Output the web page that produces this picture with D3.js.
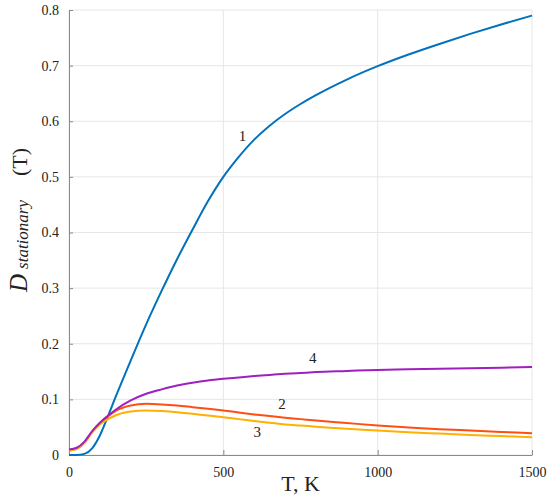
<!DOCTYPE html>
<html>
<head>
<meta charset="utf-8">
<script src="https://cdn.jsdelivr.net/npm/d3@7"></script>
<style>
  body { margin: 0; background: #fff; }
  svg text { fill: #222; }
</style>
</head>
<body>
<svg id="chart" width="550" height="497"></svg>
<script>
// data
let temps = [0, 25, 50, 75, 100, 125, 150, 200, 250, 300, 350, 400, 450, 500, 550, 600, 650, 700, 750, 800, 900, 1000, 1100, 1200, 1300, 1400, 1500]
let curve1 = [0, 0, 0.002, 0.012, 0.035, 0.068, 0.103, 0.17, 0.235, 0.295, 0.352, 0.405, 0.456, 0.50, 0.536, 0.567, 0.592, 0.613, 0.631, 0.647, 0.675, 0.699, 0.72, 0.739, 0.757, 0.774, 0.79]
let curve2 = [0.008, 0.011, 0.022, 0.041, 0.057, 0.069, 0.079, 0.089, 0.092, 0.091, 0.089, 0.086, 0.083, 0.080, 0.0765, 0.073, 0.070, 0.067, 0.0645, 0.062, 0.0575, 0.053, 0.0495, 0.0465, 0.044, 0.0415, 0.039]
let curve3 = [0.008, 0.011, 0.022, 0.041, 0.055, 0.064, 0.071, 0.078, 0.080, 0.079, 0.077, 0.074, 0.071, 0.068, 0.0645, 0.061, 0.058, 0.055, 0.053, 0.051, 0.047, 0.044, 0.041, 0.0385, 0.036, 0.034, 0.032]
let curve4 = [0.010, 0.013, 0.024, 0.043, 0.058, 0.070, 0.081, 0.098, 0.110, 0.118, 0.125, 0.130, 0.134, 0.137, 0.1395, 0.142, 0.144, 0.146, 0.1475, 0.149, 0.151, 0.153, 0.154, 0.155, 0.156, 0.157, 0.158]
let seriesNames = ["1", "2", "3", "4"]
let xTicks = [0, 500, 1000, 1500]
let yTicks = [0, 0.1, 0.2, 0.3, 0.4, 0.5, 0.6, 0.7, 0.8]

let colors = ["#0072bd", "#ff4e12", "#ffb000", "#a01fbf"]
let labelPos = [[562, 0.565], [690, 0.082], [610, 0.032], [790, 0.166]]
let serif = "Liberation Serif, Times New Roman, DejaVu Serif, serif"

let svg = d3.select("#chart")
let margin = { left: 69, top: 10, right: 18, bottom: 42 }
let width = 550 - margin.left - margin.right
let height = 497 - margin.top - margin.bottom

let g = svg.append("g").attr("transform", `translate(${margin.left},${margin.top})`)

let xScale = d3.scaleLinear().domain([0, 1500]).range([0, width])
let yScale = d3.scaleLinear().domain([0, 0.8]).range([height, 0])

// gridlines
g.append("g").selectAll("line").data(xTicks).enter().append("line")
    .attr("x1", d => xScale(d)).attr("x2", d => xScale(d))
    .attr("y1", 0).attr("y2", height)
    .attr("stroke", "#e6e6e6").attr("stroke-width", 1)
g.append("g").selectAll("line").data(yTicks).enter().append("line")
    .attr("x1", 0).attr("x2", width)
    .attr("y1", d => yScale(d)).attr("y2", d => yScale(d))
    .attr("stroke", "#e6e6e6").attr("stroke-width", 1)

// axes, ticks pointing inward
let xAxis = d3.axisBottom(xScale).tickValues(xTicks).tickSizeInner(-5).tickSizeOuter(0).tickPadding(12)
    .tickFormat(d3.format("d"))
let yAxis = d3.axisLeft(yScale).tickValues(yTicks).tickSizeInner(-4).tickSizeOuter(0).tickPadding(10)
    .tickFormat(d => d === 0 ? "0" : d3.format(".1f")(d))

let xg = g.append("g").attr("transform", `translate(0,${height})`).call(xAxis)
let yg = g.append("g").call(yAxis)
for (let ax of [xg, yg]) {
    ax.attr("font-family", serif).attr("font-size", 14)
    ax.select(".domain").attr("stroke", "#8a8a8a")
    ax.selectAll(".tick line").attr("stroke", "#8a8a8a")
    ax.selectAll("text").attr("fill", "#222")
}

// curves
let allCurves = [curve1, curve2, curve3, curve4]
let line = d3.line()
    .x((d, i) => xScale(temps[i]))
    .y(d => yScale(d))
    .curve(d3.curveMonotoneX)

g.selectAll("path.curve")
    .data(allCurves)
    .enter()
    .append("path")
    .attr("class", "curve")
    .attr("d", d => line(d))
    .attr("fill", "none")
    .attr("stroke", (d, i) => colors[i])
    .attr("stroke-width", 2)

// curve labels
g.selectAll("text.lbl")
    .data(seriesNames)
    .enter()
    .append("text")
    .attr("class", "lbl")
    .attr("x", (d, i) => xScale(labelPos[i][0]))
    .attr("y", (d, i) => yScale(labelPos[i][1]))
    .attr("text-anchor", "middle")
    .attr("font-family", serif)
    .attr("font-size", 15)
    .text(d => d)

// x axis label
svg.append("text")
    .attr("x", margin.left + width / 2)
    .attr("y", 491)
    .attr("text-anchor", "middle")
    .attr("font-family", serif)
    .attr("font-size", 22)
    .text("T, K")

// y axis label
let yl = svg.append("text")
    .attr("transform", "translate(27,292) rotate(-90)")
    .attr("text-anchor", "start")
    .attr("font-family", serif)
yl.append("tspan").attr("font-size", 25).attr("font-style", "italic").text("D")
yl.append("tspan").attr("font-size", 17).attr("font-style", "italic").attr("dx", 5).attr("dy", 1).text("stationary")
yl.append("tspan").attr("font-size", 22).attr("dx", 24).attr("dy", -1).text("(T)")
</script>
</body>
</html>
